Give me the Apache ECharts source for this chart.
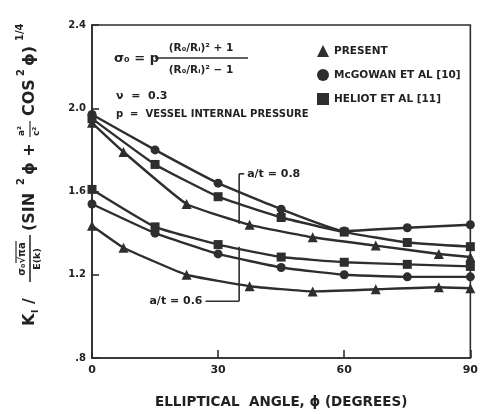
<!DOCTYPE html>
<html>
<head>
<meta charset="utf-8">
<script src="https://cdn.jsdelivr.net/npm/echarts@6/dist/echarts.min.js"></script>
<style>
  html, body { margin: 0; padding: 0; background: #fff; }
  #main { width: 481px; height: 414px; }
</style>
</head>
<body>
<div id="main"></div>
<script>
// angles where each source has points
var angCirSq = [0, 15, 30, 45, 60, 75, 90];
var angTri = [0, 7.5, 22.5, 37.5, 52.5, 67.5, 82.5, 90];

// a/t = 0.8
var present08 = [1.93, 1.79, 1.54, 1.44, 1.38, 1.34, 1.30, 1.285];
var mcgowan08 = [1.97, 1.80, 1.64, 1.515, 1.41, 1.426, 1.44];
var heliot08 = [1.95, 1.73, 1.575, 1.475, 1.405, 1.355, 1.335];
// a/t = 0.6
var present06 = [1.435, 1.33, 1.20, 1.145, 1.12, 1.13, 1.14, 1.135];
var mcgowan06 = [1.54, 1.40, 1.30, 1.235, 1.20, 1.19, 1.19];
var heliot06 = [1.61, 1.43, 1.345, 1.285, 1.26, 1.25, 1.24];

var xTicks = [0, 30, 60, 90];
var yTicks = [0.8, 1.2, 1.6, 2.0, 2.4];

var ink = '#2e2e2e';
var FONT = '"DejaVu Sans", "Liberation Sans", sans-serif';

function pairs(xs, ys) {
    return xs.map(function (x, i) { return [x, ys[i]]; });
}

function mkSeries(name, sym, size, xs, ys) {
    return {
        name: name,
        type: 'line',
        smooth: 0.12,
        symbol: sym,
        symbolSize: size,
        data: pairs(xs, ys),
        lineStyle: { color: ink, width: 2.4 },
        itemStyle: { color: ink },
        z: 3
    };
}

var myChart = echarts.init(document.getElementById('main'));

var option = {
    animation: false,
    backgroundColor: '#fff',
    grid: {
        left: 92, top: 25, right: 7, bottom: 49,
        show: true, borderColor: ink, borderWidth: 1.6
    },
    legend: {
        orient: 'vertical',
        left: 312, top: 40,
        itemWidth: 12, itemHeight: 12, itemGap: 12,
        selectedMode: false,
        textStyle: { fontFamily: FONT, fontWeight: 'bold', fontSize: 10.5, color: '#222' },
        data: [
            { name: 'PRESENT', icon: 'triangle' },
            { name: 'McGOWAN ET AL [10]', icon: 'circle' },
            { name: 'HELIOT ET AL [11]', icon: 'rect' }
        ]
    },
    xAxis: {
        type: 'value',
        min: 0, max: 90, interval: 30,
        name: 'ELLIPTICAL  ANGLE, ϕ (DEGREES)',
        nameLocation: 'middle',
        nameGap: 37,
        nameTextStyle: { fontFamily: FONT, fontWeight: 'bold', fontSize: 13.5, color: '#222' },
        splitLine: { show: false },
        axisLine: { lineStyle: { color: ink, width: 1.6 } },
        axisTick: { inside: true, length: 8, lineStyle: { color: ink, width: 1.6 } },
        axisLabel: {
            margin: 7, fontFamily: FONT, fontWeight: 'bold', fontSize: 11, color: '#222',
            formatter: function (v) { return xTicks.indexOf(v) >= 0 ? String(v) : ''; }
        }
    },
    yAxis: {
        type: 'value',
        min: 0.8, max: 2.4, interval: 0.4,
        splitLine: { show: false },
        axisLine: { lineStyle: { color: ink, width: 1.6 } },
        axisTick: { inside: true, length: 7, lineStyle: { color: ink, width: 1.6 } },
        axisLabel: {
            margin: 6, fontFamily: FONT, fontWeight: 'bold', fontSize: 10, color: '#222',
            formatter: function (v) {
                var t = yTicks.filter(function (k) { return Math.abs(k - v) < 1e-6; });
                if (!t.length) return '';
                return Math.abs(v - 0.8) < 1e-6 ? '.8' : v.toFixed(1);
            }
        }
    },
    series: [
        mkSeries('PRESENT', 'triangle', 10, angTri, present08),
        mkSeries('McGOWAN ET AL [10]', 'circle', 9, angCirSq, mcgowan08),
        mkSeries('HELIOT ET AL [11]', 'rect', 9, angCirSq, heliot08),
        mkSeries('PRESENT', 'triangle', 10, angTri, present06),
        mkSeries('McGOWAN ET AL [10]', 'circle', 9, angCirSq, mcgowan06),
        mkSeries('HELIOT ET AL [11]', 'rect', 9, angCirSq, heliot06)
    ]
};
myChart.setOption(option);

// annotation helpers
function px(x, y) { return myChart.convertToPixel({ gridIndex: 0 }, [x, y]); }
function seg(a, b, w) {
    return {
        type: 'line',
        shape: { x1: a[0], y1: a[1], x2: b[0], y2: b[1] },
        style: { stroke: ink, lineWidth: w || 1.6 },
        z: 10
    };
}
function txt(x, y, s, size, align) {
    return {
        type: 'text', x: x, y: y, z: 10,
        style: {
            text: s, font: 'bold ' + size + 'px ' + FONT, fill: '#222',
            textAlign: align || 'left', textVerticalAlign: 'middle'
        }
    };
}

// bracket a/t = 0.8
var b8top = px(35, 1.685), b8bot = px(35, 1.445), b8tip = px(36.2, 1.685);
// bracket a/t = 0.6
var b6top = px(35, 1.335), b6bot = px(35, 1.073), b6end = px(27, 1.073);

var graphics = [
    seg(b8top, b8bot), seg(b8top, b8tip),
    txt(b8tip[0] + 3, b8tip[1], 'a/t = 0.8', 11, 'left'),
    seg(b6top, b6bot), seg(b6bot, b6end),
    txt(b6end[0] - 3, b6end[1], 'a/t = 0.6', 11, 'right'),

    // formula block
    txt(114, 59, 'σ₀ = p', 13, 'left'),
    txt(201, 48, '(R₀/Rᵢ)² + 1', 10.5, 'center'),
    seg([155, 58], [248, 58]),
    txt(201, 70, '(R₀/Rᵢ)² − 1', 10.5, 'center'),
    txt(116, 96, 'ν  =  0.3', 11, 'left'),
    txt(116, 114, 'p  =  VESSEL INTERNAL PRESSURE', 10, 'left'),

    // rotated y axis title
    {
        type: 'group',
        x: 30, y: 326,
        rotation: Math.PI / 2,
        children: [
            txt(0, 0, 'K', 16, 'left'),
            txt(13, 6, 'I', 9, 'left'),
            txt(22, 0, '/', 16, 'left'),
            txt(67, -8, 'σ₀√πa', 10, 'center'),
            seg([63, -14], [85, -14], 1.2),
            seg([44, 0], [91, 0], 1.6),
            txt(67, 8, 'E(k)', 9.5, 'center'),
            txt(95, 0, '(SIN', 16, 'left'),
            txt(141, -9, '2', 10, 'left'),
            txt(151, 0, 'ϕ +', 16, 'left'),
            txt(190, -8, 'a²', 9, 'left'),
            seg([189, 0], [205, 0], 1.2),
            txt(190, 7, 'c²', 9, 'left'),
            txt(210, 0, 'COS', 16, 'left'),
            txt(250, -9, '2', 10, 'left'),
            txt(260, 0, 'ϕ)', 16, 'left'),
            txt(285, -10, '1/4', 10, 'left')
        ]
    }
];
myChart.setOption({ graphic: graphics });
</script>
</body>
</html>
